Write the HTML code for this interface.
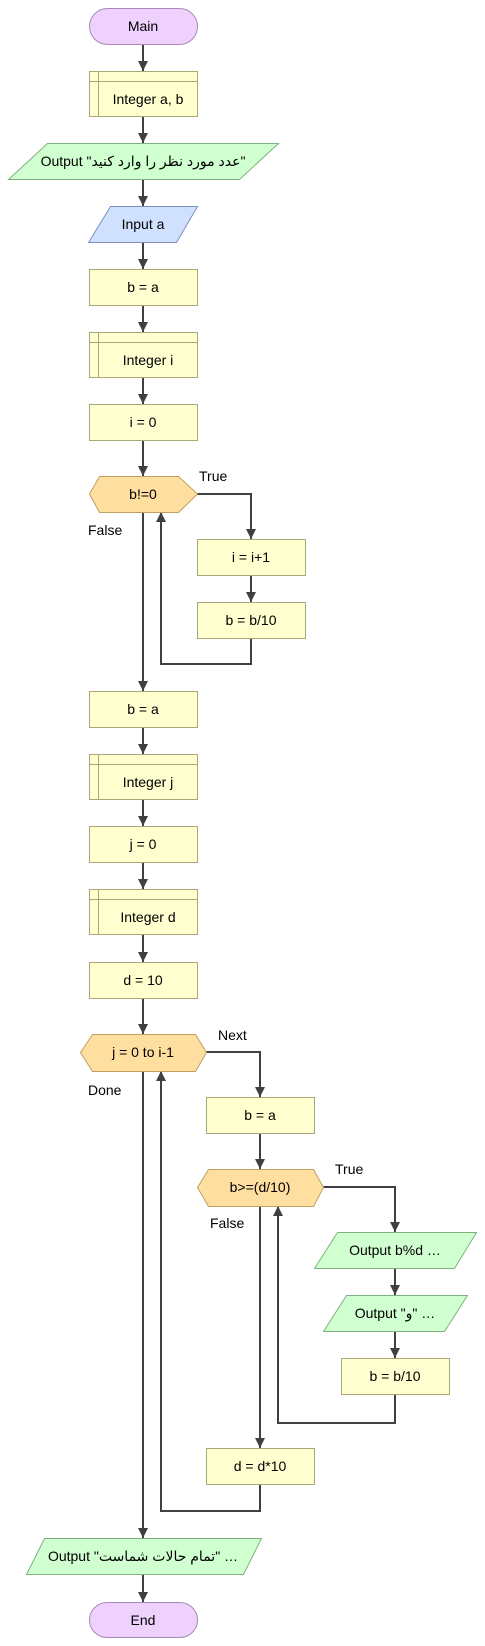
<!DOCTYPE html>
<html><head><meta charset="utf-8"><style>html,body{margin:0;padding:0;background:#fff}svg{display:block}text{font-family:"Liberation Sans","DejaVu Sans",sans-serif;font-size:14px;fill:#000}</style></head><body>
<svg width="485" height="1646" viewBox="0 0 485 1646" xmlns="http://www.w3.org/2000/svg">
<defs><marker id="a" markerWidth="10" markerHeight="10" refX="5" refY="9" orient="auto" markerUnits="userSpaceOnUse"><path d="M0,0 L10,0 L5,10 z" fill="#404040" transform="rotate(0)"/></marker>
<marker id="u" markerWidth="10" markerHeight="10" refX="5" refY="1" orient="auto" markerUnits="userSpaceOnUse"><path d="M0,10 L10,10 L5,0 z" fill="#404040"/></marker></defs>
<g stroke="#404040" stroke-width="2" fill="none">
<line x1="143" y1="44" x2="143" y2="71"/><line x1="143" y1="116" x2="143" y2="143"/><line x1="143" y1="179" x2="143" y2="206"/><line x1="143" y1="242" x2="143" y2="269"/><line x1="143" y1="305" x2="143" y2="332"/><line x1="143" y1="377" x2="143" y2="404"/><line x1="143" y1="440" x2="143" y2="476"/>
<polyline points="197,494 251,494 251,539"/><line x1="251" y1="575" x2="251" y2="602"/><polyline points="251,638 251,664 161,664 161,512"/>
<line x1="143" y1="512" x2="143" y2="691"/><line x1="143" y1="727" x2="143" y2="754"/><line x1="143" y1="799" x2="143" y2="826"/><line x1="143" y1="862" x2="143" y2="889"/><line x1="143" y1="934" x2="143" y2="962"/><line x1="143" y1="998" x2="143" y2="1034"/>
<polyline points="206,1052 260,1052 260,1097"/><line x1="260" y1="1133" x2="260" y2="1169"/>
<polyline points="323,1187 395,1187 395,1232"/><line x1="395" y1="1268" x2="395" y2="1295"/><line x1="395" y1="1331" x2="395" y2="1358"/><polyline points="395,1394 395,1423 278,1423 278,1206"/>
<line x1="260" y1="1206" x2="260" y2="1448"/><polyline points="260,1484 260,1511 161,1511 161,1071"/>
<line x1="143" y1="1071" x2="143" y2="1538"/><line x1="143" y1="1574" x2="143" y2="1602"/>
</g>
<g fill="#404040">
<path d="M138,61 h10 l-5,10z"/><path d="M138,106 h10 l-5,10z"/><path d="M138,133 h10 l-5,10z"/><path d="M138,196 h10 l-5,10z"/><path d="M138,259 h10 l-5,10z"/><path d="M138,322 h10 l-5,10z"/><path d="M138,394 h10 l-5,10z"/><path d="M138,466 h10 l-5,10z"/>
<path d="M246,529 h10 l-5,10z"/><path d="M246,592 h10 l-5,10z"/><path d="M156,522 h10 l-5,-10z"/>
<path d="M138,681 h10 l-5,10z"/><path d="M138,744 h10 l-5,10z"/><path d="M138,816 h10 l-5,10z"/><path d="M138,879 h10 l-5,10z"/><path d="M138,952 h10 l-5,10z"/><path d="M138,1024 h10 l-5,10z"/>
<path d="M255,1087 h10 l-5,10z"/><path d="M255,1159 h10 l-5,10z"/><path d="M390,1222 h10 l-5,10z"/><path d="M390,1285 h10 l-5,10z"/><path d="M390,1348 h10 l-5,10z"/><path d="M273,1216 h10 l-5,-10z"/>
<path d="M255,1438 h10 l-5,10z"/><path d="M156,1081 h10 l-5,-10z"/><path d="M138,1528 h10 l-5,10z"/><path d="M138,1592 h10 l-5,10z"/>
</g>
<g stroke-width="1">
<rect x="89.5" y="8.5" width="108" height="36" rx="18" fill="#eed2fd" stroke="#a888b8"/>
<rect x="89.5" y="71.5" width="108" height="45" fill="#ffffd0" stroke="#a8a878"/><path d="M98.5,71.5 V116.5 M89.5,81.5 H197.5" stroke="#a8a878"/>
<path d="M47.5,143.5 H278.5 L239.5,179.5 H8.5 Z" fill="#d0ffd0" stroke="#80b080"/>
<path d="M110.5,206.5 H197.5 L176.5,242.5 H88.5 Z" fill="#d0e0ff" stroke="#8090c0"/>
<rect x="89.5" y="269.5" width="108" height="36" fill="#ffffd0" stroke="#a8a878"/>
<rect x="89.5" y="332.5" width="108" height="45" fill="#ffffd0" stroke="#a8a878"/><path d="M98.5,332.5 V377.5 M89.5,342.5 H197.5" stroke="#a8a878"/>
<rect x="89.5" y="404.5" width="108" height="36" fill="#ffffd0" stroke="#a8a878"/>
<path d="M89.5,494 L99.5,476.5 H178.5 L197.5,494 L178.5,512.5 H99.5 Z" fill="#ffdf9f" stroke="#c0a060"/>
<rect x="197.5" y="539.5" width="108" height="36" fill="#ffffd0" stroke="#a8a878"/>
<rect x="197.5" y="602.5" width="108" height="36" fill="#ffffd0" stroke="#a8a878"/>
<rect x="89.5" y="691.5" width="108" height="36" fill="#ffffd0" stroke="#a8a878"/>
<rect x="89.5" y="754.5" width="108" height="45" fill="#ffffd0" stroke="#a8a878"/><path d="M98.5,754.5 V799.5 M89.5,764.5 H197.5" stroke="#a8a878"/>
<rect x="89.5" y="826.5" width="108" height="36" fill="#ffffd0" stroke="#a8a878"/>
<rect x="89.5" y="889.5" width="108" height="45" fill="#ffffd0" stroke="#a8a878"/><path d="M98.5,889.5 V934.5 M89.5,899.5 H197.5" stroke="#a8a878"/>
<rect x="89.5" y="962.5" width="108" height="36" fill="#ffffd0" stroke="#a8a878"/>
<path d="M80.5,1052.5 L92.5,1034.5 H195.5 L206.5,1052.5 L195.5,1071.5 H92.5 Z" fill="#ffdf9f" stroke="#c0a060"/>
<rect x="206.5" y="1097.5" width="108" height="36" fill="#ffffd0" stroke="#a8a878"/>
<path d="M197.5,1187.5 L208.5,1169.5 H313.5 L323.5,1187.5 L313.5,1206.5 H208.5 Z" fill="#ffdf9f" stroke="#c0a060"/>
<path d="M337.5,1232.5 H476.5 L454.5,1268.5 H314.5 Z" fill="#d0ffd0" stroke="#80b080"/>
<path d="M346.5,1295.5 H467.5 L444.5,1331.5 H323.5 Z" fill="#d0ffd0" stroke="#80b080"/>
<rect x="341.5" y="1358.5" width="108" height="36" fill="#ffffd0" stroke="#a8a878"/>
<rect x="206.5" y="1448.5" width="108" height="36" fill="#ffffd0" stroke="#a8a878"/>
<path d="M44.5,1538.5 H261.5 L243.5,1574.5 H26.5 Z" fill="#d0ffd0" stroke="#80b080"/>
<rect x="89.5" y="1602.5" width="108" height="35" rx="17.5" fill="#eed2fd" stroke="#a888b8"/>
</g>
<g text-anchor="middle">
<text x="143" y="31">Main</text>
<text x="148" y="104">Integer a, b</text>
<text x="143" y="166" font-family="'Liberation Sans','DejaVu Sans',sans-serif">Output "عدد مورد نظر را وارد کنید"</text>
<text x="143" y="229">Input a</text>
<text x="143" y="292">b = a</text>
<text x="148" y="365">Integer i</text>
<text x="143" y="427">i = 0</text>
<text x="143" y="499">b!=0</text>
<text x="251" y="562">i = i+1</text>
<text x="251" y="625">b = b/10</text>
<text x="143" y="714">b = a</text>
<text x="148" y="787">Integer j</text>
<text x="143" y="849">j = 0</text>
<text x="148" y="922">Integer d</text>
<text x="143" y="985">d = 10</text>
<text x="143" y="1057">j = 0 to i-1</text>
<text x="260" y="1120">b = a</text>
<text x="260" y="1192">b&gt;=(d/10)</text>
<text x="395" y="1255">Output b%d …</text>
<text x="395" y="1318">Output "و" …</text>
<text x="395" y="1381">b = b/10</text>
<text x="260" y="1471">d = d*10</text>
<text x="143" y="1561">Output "تمام حالات شماست" …</text>
<text x="143" y="1625">End</text>
</g>
<text x="199" y="481">True</text><text x="88" y="535">False</text>
<text x="218" y="1040">Next</text><text x="88" y="1095">Done</text>
<text x="335" y="1174">True</text><text x="210" y="1228">False</text>
</svg>
</body></html>
